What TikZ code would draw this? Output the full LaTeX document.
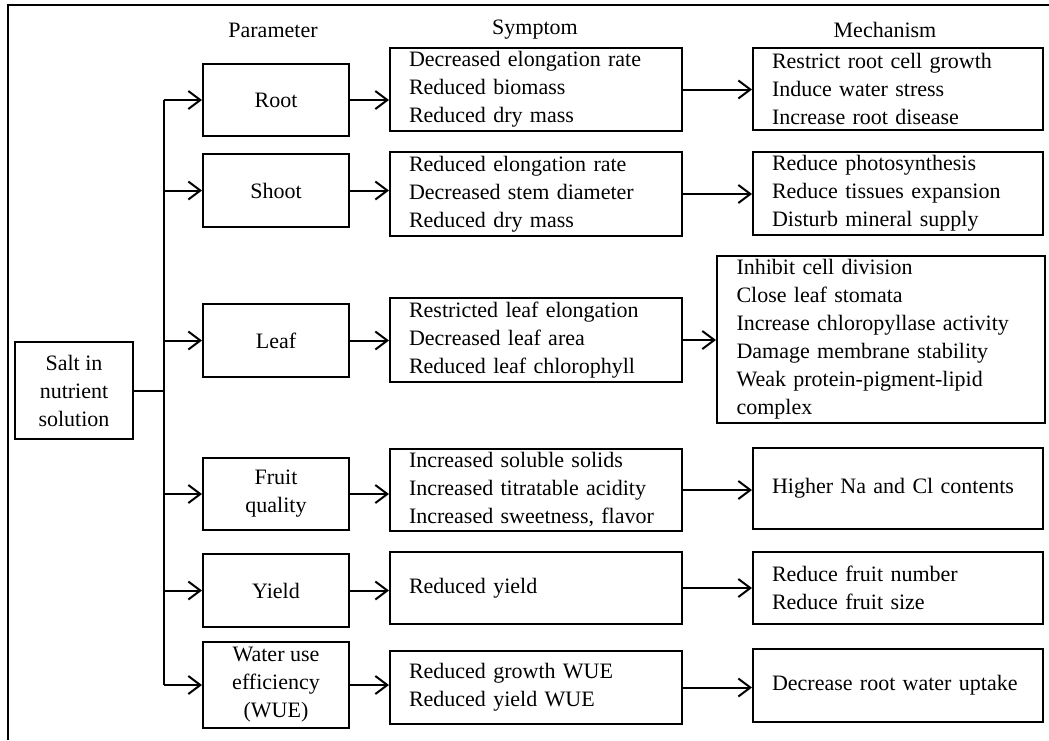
\documentclass[tikz,border=0pt]{standalone}
\usepackage{fontspec}
\setmainfont{Liberation Serif}
\usetikzlibrary{arrows.meta}
\begin{document}
\begin{tikzpicture}[x=1pt, y=-1pt,
    font=\fontsize{22}{28}\selectfont,
    >={Straight Barb[length=12pt,width=18pt]},
    parbox/.style={draw, line width=2pt, minimum width=146pt, align=center, inner sep=0pt},
    symbox/.style={draw, line width=2pt, align=left, inner xsep=19pt, inner ysep=0pt, text width=254pt},
    mechbox/.style={draw, line width=2pt, align=left, inner xsep=19pt, inner ysep=0pt, text width=252pt},
    arr/.style={->, line width=2pt}]
    \useasboundingbox (0,0) rectangle (1049,740);
    \draw[line width=2.5pt] (8,740) -- (8,5) -- (1049,5);

    % headings
    \node (hPar) at (273,30) {Parameter};
    \node (hSym) at (535,30) {Symptom};
    \node (hMech) at (885,30) {Mechanism};

    % source
    \node[draw, line width=2pt, minimum width=118pt, minimum height=97pt, align=center, inner sep=0pt]
        (salt) at (74,390.5) {Salt in\\nutrient\\solution};

    % parameters
    \node[parbox, minimum height=72pt] (root) at (276,100) {Root};
    \node[parbox, minimum height=73pt] (shoot) at (276,190.5) {Shoot};
    \node[parbox, minimum height=73pt] (leaf) at (276,340.5) {Leaf};
    \node[parbox, minimum height=72pt] (fruit) at (276,494) {Fruit\\quality};
    \node[parbox, minimum height=73pt] (yield) at (276,590.5) {Yield};
    \node[parbox, minimum height=86pt] (wue) at (276,685) {Water use\\efficiency\\(WUE)};

    % symptoms
    \node[symbox, minimum height=83pt] (rootS) at (536,89.5)
        {Decreased elongation rate\\Reduced biomass\\Reduced dry mass};
    \node[symbox, minimum height=84pt] (shootS) at (536,194)
        {Reduced elongation rate\\Decreased stem diameter\\Reduced dry mass};
    \node[symbox, minimum height=84pt] (leafS) at (536,340)
        {Restricted leaf elongation\\Decreased leaf area\\Reduced leaf chlorophyll};
    \node[symbox, minimum height=82pt] (fruitS) at (536,490)
        {Increased soluble solids\\Increased titratable acidity\\Increased sweetness, flavor};
    \node[symbox, minimum height=72pt] (yieldS) at (536,588) {Reduced yield};
    \node[symbox, minimum height=73pt] (wueS) at (536,687.5)
        {Reduced growth WUE\\Reduced yield WUE};

    % mechanisms
    \node[mechbox, minimum height=82pt] (rootM) at (898,89)
        {Restrict root cell growth\\Induce water stress\\Increase root disease};
    \node[mechbox, minimum height=83pt] (shootM) at (898,193.5)
        {Reduce photosynthesis\\Reduce tissues expansion\\Disturb mineral supply};
    \node[mechbox, text width=289pt, inner xsep=19.5pt, minimum height=167pt] (leafM) at (881,339.5)
        {Inhibit cell division\\Close leaf stomata\\Increase chloropyllase activity\\Damage membrane stability\\Weak protein-pigment-lipid\\complex};
    \node[mechbox, minimum height=81pt] (fruitM) at (898,488.5) {Higher Na and Cl contents};
    \node[mechbox, minimum height=72pt] (yieldM) at (898,588)
        {Reduce fruit number\\Reduce fruit size};
    \node[mechbox, minimum height=73pt] (wueM) at (898,685.5) {Decrease root water uptake};

    % connectors
    \coordinate (tr) at (164,0);
    \draw[line width=2pt] (tr |- root.west) -- (tr |- wue.west);
    \draw[line width=2pt] (salt.east) -- (salt.east -| tr);
    \foreach \n in {root,shoot,leaf,fruit,yield,wue} {
        \draw[arr] (tr |- \n.west) -- (\n.west);
        \draw[arr] (\n.east) -- (\n.east -| \n S.west);
        \draw[arr] (\n S.east) -- (\n S.east -| \n M.west);
    }
\end{tikzpicture}
\end{document}
